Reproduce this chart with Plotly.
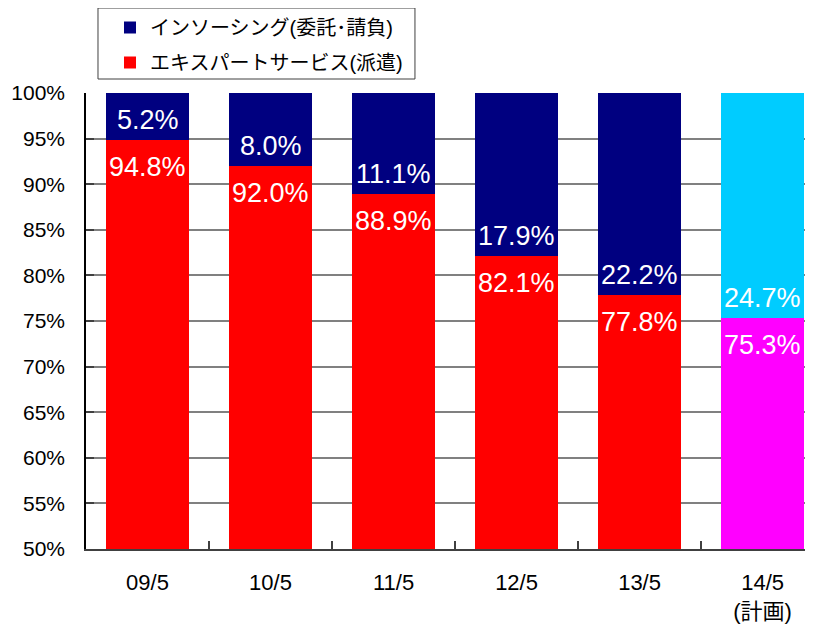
import plotly.graph_objects as go

categories = ["09/5", "10/5", "11/5", "12/5", "13/5", "14/5<br>(計画)"]
outsourcing = [5.2, 8.0, 11.1, 17.9, 22.2, 24.7]
dispatch = [94.8, 92.0, 88.9, 82.1, 77.8, 75.3]
y_ticks = [50, 55, 60, 65, 70, 75, 80, 85, 90, 95, 100]
name_out = "インソーシング(委託･請負)"
name_disp = "エキスパートサービス(派遣)"

navy, red, cyan, magenta = "#000080", "#FF0000", "#00CCFF", "#FF00FF"
disp_colors = [red] * 5 + [magenta]
out_colors = [navy] * 5 + [cyan]

FONT = "Arial, 'Liberation Sans', 'Noto Sans CJK JP', sans-serif"

fig = go.Figure()
fig.add_trace(go.Bar(
    x=categories, y=dispatch, name=name_disp, legendgroup="d", legendrank=2,
    marker=dict(color=disp_colors, line=dict(width=0)),
    width=0.675,
))
fig.add_trace(go.Bar(
    x=categories, y=outsourcing, name=name_out, legendgroup="o", legendrank=1,
    marker=dict(color=out_colors, line=dict(width=0)),
    width=0.675,
))

# value labels around the boundary between the two segments
for c, d, o in zip(categories, dispatch, outsourcing):
    fig.add_annotation(x=c, y=d, text=f"{d:.1f}%", showarrow=False,
                       yanchor="top", yshift=-10,
                       font=dict(color="white", size=27, family=FONT))
    fig.add_annotation(x=c, y=d, text=f"{o:.1f}%", showarrow=False,
                       yanchor="bottom", yshift=3,
                       font=dict(color="white", size=27, family=FONT))

# legend frame
fig.add_shape(type="rect", xref="paper", yref="paper",
              x0=0.0165, x1=0.4525, y0=1.0307, y1=1.1864,
              line=dict(color="#404040", width=1), fillcolor="rgba(0,0,0,0)",
              layer="above")

fig.update_layout(
    barmode="stack",
    width=813, height=626,
    margin=dict(l=78, r=8, t=85, b=85, autoexpand=False),
    paper_bgcolor="white", plot_bgcolor="white",
    font=dict(family=FONT, color="black", size=20),
    showlegend=True,
    legend=dict(
        traceorder="grouped",
        x=0.033, y=1.1864, xanchor="left", yanchor="top",
        borderwidth=0, bgcolor="rgba(0,0,0,0)",
        font=dict(size=20, family=FONT),
        tracegroupgap=6,
    ),
)
fig.update_xaxes(
    range=[-0.5, 5.41],
    showline=True, linecolor="#404040", linewidth=2,
    ticks="inside", tickson="boundaries", ticklen=8, tickcolor="#404040", tickwidth=1.5,
    showgrid=False,
    tickfont=dict(size=22, family=FONT),
    ticklabelstandoff=13,
)
fig.update_yaxes(
    range=[50, 100],
    tickvals=y_ticks, ticktext=[f"{v}%" for v in y_ticks],
    showline=True, linecolor="black", linewidth=1.5,
    ticks="inside", ticklen=8, tickcolor="#404040", tickwidth=1.5,
    showgrid=True, gridcolor="#808080", gridwidth=1.5,
    tickfont=dict(size=21, family=FONT),
    ticklabelstandoff=15,
    zeroline=False,
)

fig.write_html("out.html")
